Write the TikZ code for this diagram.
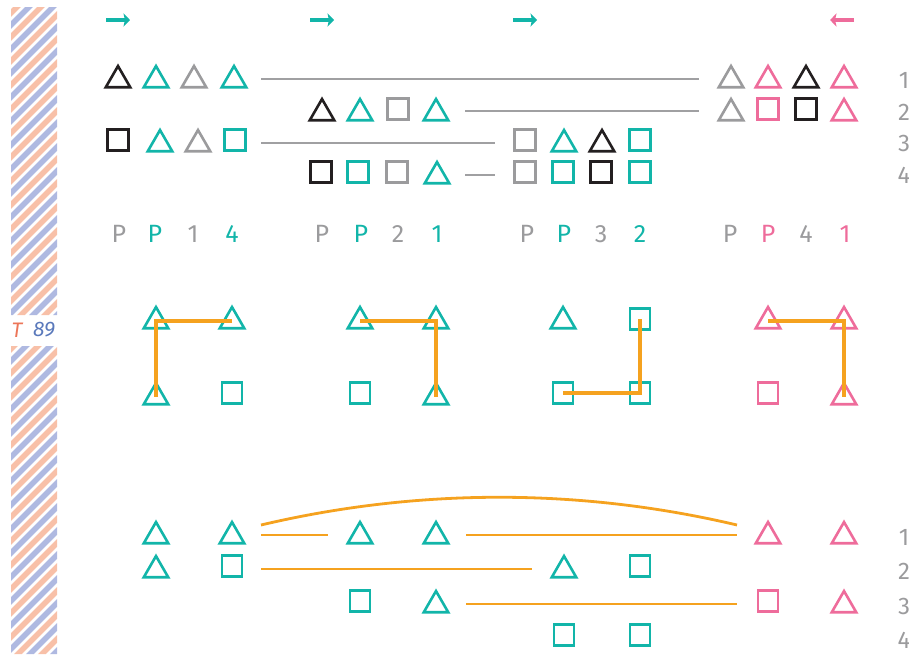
\documentclass[tikz,border=0pt]{standalone}
\usepackage{fontspec}
\setmainfont{Fira Sans}
\usetikzlibrary{shapes.geometric,arrows.meta,calc}
\definecolor{cTeal}{HTML}{12B5A9}
\definecolor{cPink}{HTML}{EE6C9B}
\definecolor{cBlack}{HTML}{231F20}
\definecolor{cGray}{HTML}{9B9B9D}
\definecolor{cLine}{HTML}{A0A0A2}
\definecolor{cOrange}{HTML}{F5A21F}
\definecolor{cSalmon}{HTML}{F8C0A8}
\definecolor{cBlue}{HTML}{AFB9E1}
\definecolor{cT}{HTML}{EC7659}
\definecolor{cNum}{HTML}{5A79BB}
\begin{document}
\begin{tikzpicture}[x=1pt,y=-1pt,
  tri/.style={regular polygon, regular polygon sides=3, minimum size=28.3pt, inner sep=0pt, outer sep=0pt, draw, line width=2.6pt, yshift=-4.2pt},
  sq/.style={rectangle, minimum width=21.5pt, minimum height=21.5pt, inner sep=0pt, outer sep=0pt, draw, line width=2.6pt},
  sqn/.style={sq, minimum width=20pt},
  gline/.style={cLine, line width=2.6pt},
  oline/.style={cOrange, line width=4.2pt, line join=miter},
  obline/.style={cOrange, line width=2.8pt},
  arr/.style={line width=3.8pt, -{Stealth[length=6.5pt,width=13pt,inset=1.5pt]}},
  lab/.style={inner sep=0pt, font=\fontsize{25}{30}\selectfont},
  rlab/.style={inner sep=0pt, text=cGray, font=\fontsize{24}{28}\selectfont},
  stripeS/.style={cSalmon, line width=5.6pt},
  stripeB/.style={cBlue, line width=5.6pt}
]
\useasboundingbox (0,0) rectangle (909,654);

% striped band
\begin{scope}
  \clip (11,7) rectangle (57,315) (11,346) rectangle (57,654);
  \foreach \k in {0,...,31} {
    \draw[stripeS] (0,{\k*24}) -- ++(90,-90);
    \draw[stripeB] (0,{\k*24+12}) -- ++(90,-90);
  }
\end{scope}
\node[inner sep=0pt, text=cT, font=\fontsize{21}{24}\selectfont\itshape] (tT) at (17,330) {T};
\node[inner sep=0pt, text=cNum, font=\fontsize{21}{24}\selectfont\itshape] (t89) at (44,330) {89};

% top arrows
\coordinate (a1s) at (106,20); \coordinate (a1e) at (130,20);
\coordinate (a2s) at (310,20); \coordinate (a2e) at (334,20);
\coordinate (a3s) at (513,20); \coordinate (a3e) at (537,20);
\coordinate (a4s) at (854,20); \coordinate (a4e) at (830,20);
\draw[arr, cTeal] (a1s) -- (a1e);
\draw[arr, cTeal] (a2s) -- (a2e);
\draw[arr, cTeal] (a3s) -- (a3e);
\draw[arr, cPink] (a4s) -- (a4e);

% ---------- top rows ----------
% row 1
\node[tri, cBlack] (r1a) at (118,76) {};
\node[tri, cTeal]  (r1b) at (156,76) {};
\node[tri, cGray]  (r1c) at (194,76) {};
\node[tri, cTeal]  (r1d) at (234,76) {};
\node[tri, cGray]  (r1e) at (731,76) {};
\node[tri, cPink]  (r1f) at (768,76) {};
\node[tri, cBlack] (r1g) at (806,76) {};
\node[tri, cPink]  (r1h) at (844,76) {};
% row 2
\node[tri, cBlack] (r2a) at (322,109) {};
\node[tri, cTeal]  (r2b) at (360,109) {};
\node[sq, cGray]   (r2c) at (398,109) {};
\node[tri, cTeal]  (r2d) at (436,109) {};
\node[tri, cGray]  (r2e) at (731,109) {};
\node[sq, cPink]   (r2f) at (768,109) {};
\node[sq, cBlack]  (r2g) at (806,109) {};
\node[tri, cPink]  (r2h) at (844,109) {};
% row 3
\node[sq, cBlack]  (r3a) at (118,140) {};
\node[tri, cTeal]  (r3b) at (160,140) {};
\node[tri, cGray]  (r3c) at (198,140) {};
\node[sq, cTeal]   (r3d) at (235,140) {};
\node[sq, cGray]   (r3e) at (525,140) {};
\node[tri, cTeal]  (r3f) at (564,140) {};
\node[tri, cBlack] (r3g) at (602,140) {};
\node[sq, cTeal]   (r3h) at (640,140) {};
% row 4
\node[sq, cBlack]  (r4a) at (321,172) {};
\node[sq, cTeal]   (r4b) at (358,172) {};
\node[sq, cGray]   (r4c) at (397,172) {};
\node[tri, cTeal]  (r4d) at (437,172) {};
\node[sq, cGray]   (r4e) at (525,172) {};
\node[sq, cTeal]   (r4f) at (563,172) {};
\node[sq, cBlack]  (r4g) at (601,172) {};
\node[sq, cTeal]   (r4h) at (640,172) {};

\coordinate (L1) at (0,79);
\coordinate (L2) at (0,111);
\coordinate (L3) at (0,143);
\coordinate (L4) at (0,175);
\draw[gline] ($(r1d |- L1)+(27,0)$) -- ($(r1e |- L1)+(-32,0)$);
\draw[gline] ($(r2d |- L2)+(29,0)$) -- ($(r2e |- L2)+(-32,0)$);
\draw[gline] ($(r3d |- L3)+(26,0)$) -- ($(r3e |- L3)+(-30,0)$);
\draw[gline] ($(r4d |- L4)+(28,0)$) -- ($(r4e |- L4)+(-30,0)$);

\node[rlab] (n1) at (904,80) {1};
\node[rlab] (n2) at (904,112) {2};
\node[rlab] (n3) at (904,143) {3};
\node[rlab] (n4) at (904,175) {4};

% ---------- P labels ----------
\node[lab, text=cGray] (p1a) at (119,234) {P};
\node[lab, text=cTeal] (p1b) at (155,234) {P};
\node[lab, text=cGray] (p1c) at (193,234) {1};
\node[lab, text=cTeal] (p1d) at (232,234) {4};
\node[lab, text=cGray] (p2a) at (322,234) {P};
\node[lab, text=cTeal] (p2b) at (361,234) {P};
\node[lab, text=cGray] (p2c) at (398,234) {2};
\node[lab, text=cTeal] (p2d) at (437,234) {1};
\node[lab, text=cGray] (p3a) at (527,234) {P};
\node[lab, text=cTeal] (p3b) at (564,234) {P};
\node[lab, text=cGray] (p3c) at (601,234) {3};
\node[lab, text=cTeal] (p3d) at (640,234) {2};
\node[lab, text=cGray] (p4a) at (730,234) {P};
\node[lab, text=cPink] (p4b) at (768,234) {P};
\node[lab, text=cGray] (p4c) at (806,234) {4};
\node[lab, text=cPink] (p4d) at (845,234) {1};

% ---------- middle grids ----------
\node[tri, cTeal] (m1a) at (156,317) {};
\node[tri, cTeal] (m1b) at (232,317) {};
\node[tri, cTeal] (m1c) at (156,393) {};
\node[sqn, cTeal] (m1d) at (232,393) {};
\node[tri, cTeal] (m2a) at (360,317) {};
\node[tri, cTeal] (m2b) at (436,317) {};
\node[sqn, cTeal] (m2c) at (360,393) {};
\node[tri, cTeal] (m2d) at (436,393) {};
\node[tri, cTeal] (m3a) at (563,317) {};
\node[sqn, cTeal] (m3b) at (640,319) {};
\node[sqn, cTeal] (m3c) at (563,393) {};
\node[sqn, cTeal] (m3d) at (640,393) {};
\node[tri, cPink] (m4a) at (768,317) {};
\node[tri, cPink] (m4b) at (844,317) {};
\node[sqn, cPink] (m4c) at (768,393) {};
\node[tri, cPink] (m4d) at (844,393) {};
\draw[oline] (m1b.center) -- (m1a.center) -- (m1c.center);
\draw[oline] (m2a.center) -- (m2b.center) -- (m2d.center);
\draw[oline] (m3b.center) -- (m3d.center) -- (m3c.center);
\draw[oline] (m4a.center) -- (m4b.center) -- (m4d.center);

% ---------- bottom rows ----------
\node[tri, cTeal] (b1a) at (156,532) {};
\node[tri, cTeal] (b1b) at (232,532) {};
\node[tri, cTeal] (b1c) at (360,532) {};
\node[tri, cTeal] (b1d) at (436,532) {};
\node[tri, cPink] (b1e) at (768,532) {};
\node[tri, cPink] (b1f) at (844,532) {};
\node[tri, cTeal] (b2a) at (156,566) {};
\node[sqn, cTeal] (b2b) at (232,566) {};
\node[tri, cTeal] (b2c) at (564,566) {};
\node[sqn, cTeal] (b2d) at (640,566) {};
\node[sqn, cTeal] (b3a) at (360,601) {};
\node[tri, cTeal] (b3b) at (436,601) {};
\node[sqn, cPink] (b3c) at (768,601) {};
\node[tri, cPink] (b3d) at (844,601) {};
\node[sqn, cTeal] (b4a) at (564,635) {};
\node[sqn, cTeal] (b4b) at (640,635) {};

\coordinate (B0) at (0,525);
\coordinate (B1) at (0,535);
\coordinate (B2) at (0,569);
\coordinate (B3) at (0,604);
\draw[obline] ($(b1b |- B0)+(29,0)$) .. controls +(157,-37) and +(-157,-37) .. ($(b1e |- B0)+(-31,0)$);
\draw[obline] ($(b1b |- B1)+(29,0)$) -- ($(b1c |- B1)+(-32,0)$);
\draw[obline] ($(b1d |- B1)+(30,0)$) -- ($(b1e |- B1)+(-31,0)$);
\draw[obline] ($(b2b |- B2)+(29,0)$) -- ($(b2c |- B2)+(-32,0)$);
\draw[obline] ($(b3b |- B3)+(30,0)$) -- ($(b3c |- B3)+(-31,0)$);

\node[rlab] (m1) at (904,537) {1};
\node[rlab] (m2) at (904,571) {2};
\node[rlab] (m3) at (904,606) {3};
\node[rlab] (m4) at (904,640) {4};
\end{tikzpicture}
\end{document}
